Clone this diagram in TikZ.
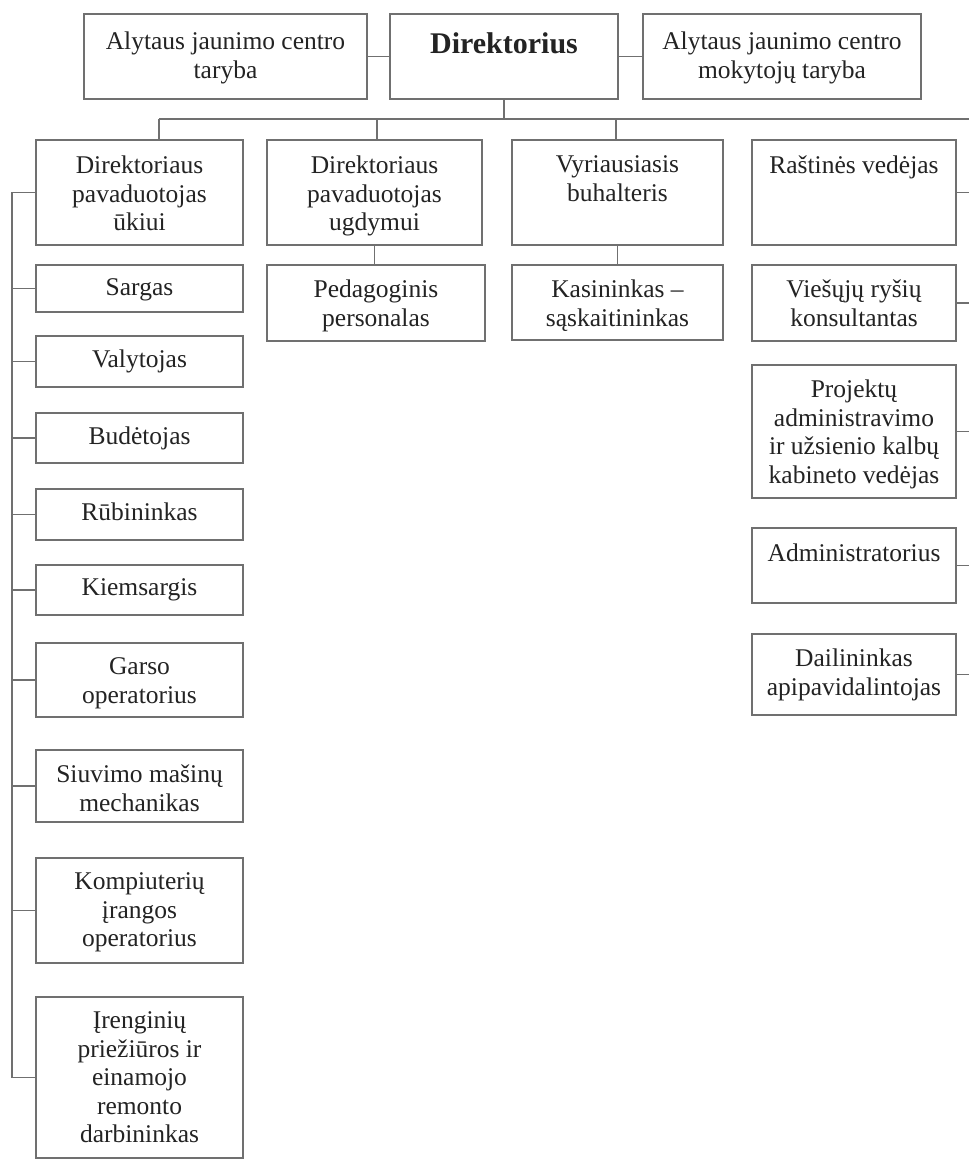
\documentclass[tikz,border=0pt]{standalone}
\usepackage{fontspec}
\setmainfont{Liberation Serif}

\definecolor{linegray}{RGB}{112,112,112}
\definecolor{inkgray}{RGB}{35,35,35}

% fixed-size cell: width, height, top padding, text (top aligned, centred)
\newcommand{\cellbox}[4]{\begin{minipage}[c][#2][t]{#1}\centering\vspace*{#3}#4\end{minipage}}

\begin{document}
\begin{tikzpicture}[x=1pt, y=-1pt,
  box/.style={draw=linegray, line width=1.7pt, inner sep=0pt, fill=white, text=inkgray},
  wire/.style={draw=linegray, line width=1.7pt},
  font=\fontsize{25.5}{28.5}\selectfont]

\useasboundingbox (0,0) rectangle (969,1159);
\fill[white] (0,0) rectangle (969,1159);

% ---- top level ----
\node[box] (tL) at (225.5,56.5) {\cellbox{283pt}{85pt}{18pt}{Alytaus jaunimo centro\\taryba}};
\node[box] (tD) at (504,56.5) {\cellbox{228pt}{85pt}{19pt}{\fontsize{30}{34}\selectfont\bfseries Direktorius}};
\node[box] (tR) at (782,56.5) {\cellbox{278pt}{85pt}{18pt}{Alytaus jaunimo centro\\mokytojų taryba}};

% ---- second level ----
\node[box] (b1) at (139.5,192.5) {\cellbox{207pt}{105pt}{16pt}{Direktoriaus\\pavaduotojas\\ūkiui}};
\node[box] (b2) at (374.5,192.5) {\cellbox{215pt}{105pt}{16pt}{Direktoriaus\\pavaduotojas\\ugdymui}};
\node[box] (b3) at (617.5,192.5) {\cellbox{211pt}{105pt}{16pt}{Vyriausiasis\\buhalteris}};
\node[box] (b4) at (854,192.5) {\cellbox{204pt}{105pt}{16pt}{Raštinės vedėjas}};

% ---- under the deputies ----
\node[box] (ped) at (376,303) {\cellbox{218pt}{76pt}{15pt}{Pedagoginis\\personalas}};
\node[box] (kas) at (617.5,302.5) {\cellbox{211pt}{75pt}{15pt}{Kasininkas –\\sąskaitininkas}};

% ---- right column ----
\node[box] (r2) at (854,303) {\cellbox{204pt}{76pt}{15pt}{Viešųjų ryšių\\konsultantas}};
\node[box] (r3) at (854,431.5) {\cellbox{204pt}{133pt}{15pt}{Projektų\\administravimo\\ir užsienio kalbų\\kabineto vedėjas}};
\node[box] (r4) at (854,565.5) {\cellbox{204pt}{75pt}{16pt}{Administratorius}};
\node[box] (r5) at (854,674.5) {\cellbox{204pt}{81pt}{15pt}{Dailininkas\\apipavidalintojas}};

% ---- left column ----
\node[box] (l1) at (139.5,288.5) {\cellbox{207pt}{47pt}{14pt}{Sargas}};
\node[box] (l2) at (139.5,361.5) {\cellbox{207pt}{51pt}{14pt}{Valytojas}};
\node[box] (l3) at (139.5,438) {\cellbox{207pt}{50pt}{14pt}{Budėtojas}};
\node[box] (l4) at (139.5,514.5) {\cellbox{207pt}{51pt}{14pt}{Rūbininkas}};
\node[box] (l5) at (139.5,590) {\cellbox{207pt}{50pt}{14pt}{Kiemsargis}};
\node[box] (l6) at (139.5,680) {\cellbox{207pt}{74pt}{15pt}{Garso\\operatorius}};
\node[box] (l7) at (139.5,786) {\cellbox{207pt}{72pt}{15pt}{Siuvimo mašinų\\mechanikas}};
\node[box] (l8) at (139.5,910.5) {\cellbox{207pt}{105pt}{15pt}{Kompiuterių\\įrangos\\operatorius}};
\node[box] (l9) at (139.5,1077.5) {\cellbox{207pt}{161pt}{15pt}{Įrenginių\\priežiūros ir\\einamojo\\remonto\\darbininkas}};

% ---- junction points ----
\coordinate (j1) at (159,119);
\coordinate (j2) at (377,119);
\coordinate (j3) at (616,119);
\coordinate (lspine) at (12,0);
\coordinate (rspine) at (969,0);

% ---- connectors ----
\draw[wire] (tL.east) -- (tD.west);
\draw[wire] (tD.east) -- (tR.west);
\draw[wire] (tD.south) -- (tD.south |- j1);
\draw[wire] (j1) -- (rspine |- j1);
\draw[wire] (j1) -- (j1 |- b1.north);
\draw[wire] (j2) -- (j2 |- b2.north);
\draw[wire] (j3) -- (j3 |- b3.north);
\draw[wire] (b2.south) -- (b2.south |- ped.north);
\draw[wire] (b3.south) -- (b3.south |- kas.north);

% right column stubs
\foreach \n in {b4,r2,r3,r4,r5}
  \draw[wire] (\n.east) -- (rspine |- \n.east);

% left column spine and stubs
\draw[wire] (b1.west) -- (lspine |- b1.west) -- (lspine |- l9.west) -- (l9.west);
\foreach \n in {l1,l2,l3,l4,l5,l6,l7,l8}
  \draw[wire] (\n.west) -- (lspine |- \n.west);

\end{tikzpicture}
\end{document}
